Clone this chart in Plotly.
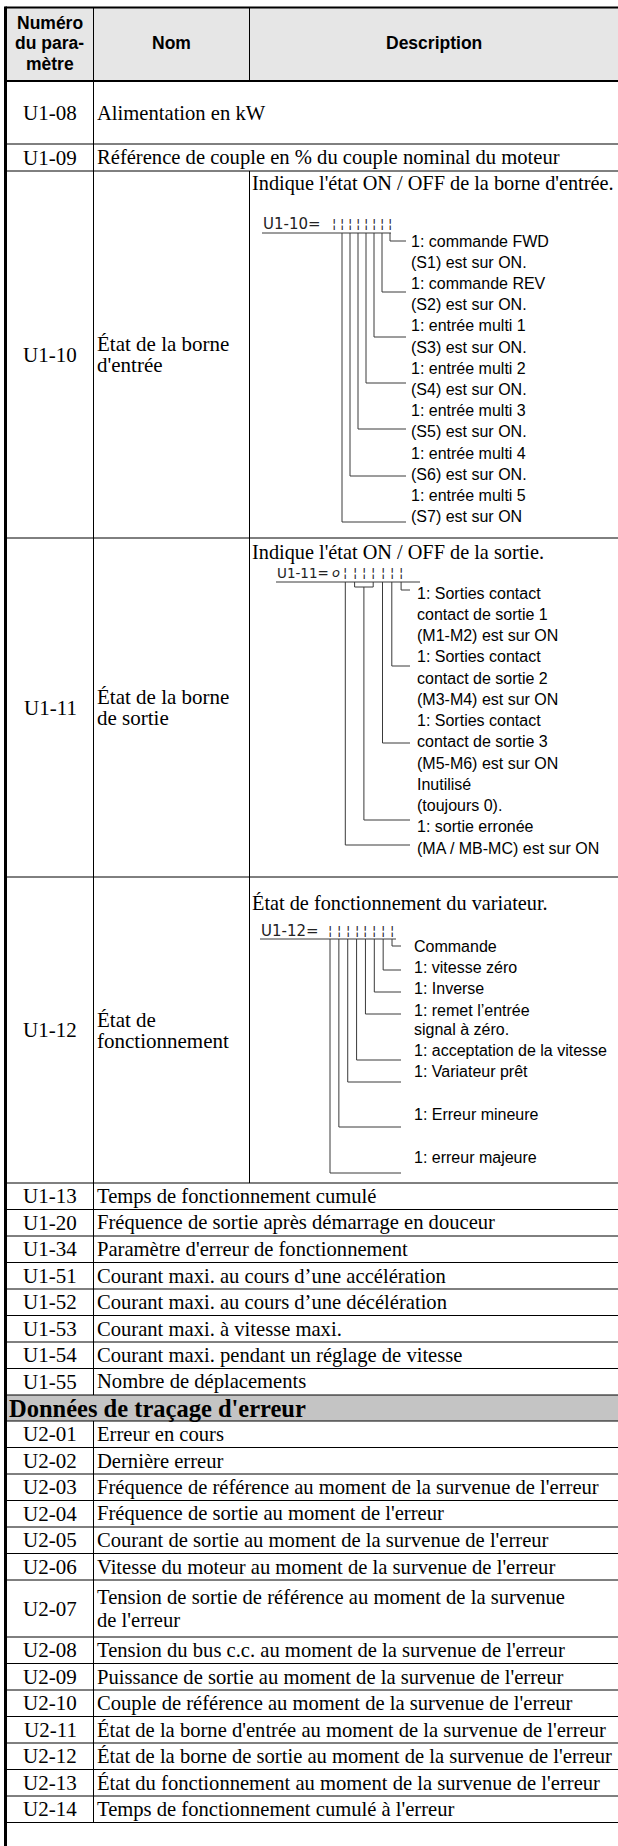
import plotly.graph_objects as go

# ---------------- content ----------------
header_param = ["Numéro", "du para-", "mètre"]
header_name = "Nom"
header_desc = "Description"

u1_codes = ["U1-08", "U1-09", "U1-10", "U1-11", "U1-12", "U1-13", "U1-20",
            "U1-34", "U1-51", "U1-52", "U1-53", "U1-54", "U1-55"]
u1_names = {"U1-10": ["État de la borne", "d'entrée"],
            "U1-11": ["État de la borne", "de sortie"],
            "U1-12": ["État de", "fonctionnement"]}
u1_desc = ["Alimentation en kW",
           "Référence de couple en % du couple nominal du moteur",
           "Indique l'état ON / OFF de la borne d'entrée.",
           "Indique l'état ON / OFF de la sortie.",
           "État de fonctionnement du variateur.",
           "Temps de fonctionnement cumulé",
           "Fréquence de sortie après démarrage en douceur",
           "Paramètre d'erreur de fonctionnement",
           "Courant maxi. au cours d’une accélération",
           "Courant maxi. au cours d’une décélération",
           "Courant maxi. à vitesse maxi.",
           "Courant maxi. pendant un réglage de vitesse",
           "Nombre de déplacements"]

section_title = "Données de traçage d'erreur"
u2_codes = ["U2-01", "U2-02", "U2-03", "U2-04", "U2-05", "U2-06", "U2-07",
            "U2-08", "U2-09", "U2-10", "U2-11", "U2-12", "U2-13", "U2-14"]
u2_desc = [["Erreur en cours"],
           ["Dernière erreur"],
           ["Fréquence de référence au moment de la survenue de l'erreur"],
           ["Fréquence de sortie au moment de l'erreur"],
           ["Courant de sortie au moment de la survenue de l'erreur"],
           ["Vitesse du moteur au moment de la survenue de l'erreur"],
           ["Tension de sortie de référence au moment de la survenue", "de l'erreur"],
           ["Tension du bus c.c. au moment de la survenue de l'erreur"],
           ["Puissance de sortie au moment de la survenue de l'erreur"],
           ["Couple de référence au moment de la survenue de l'erreur"],
           ["État de la borne d'entrée au moment de la survenue de l'erreur"],
           ["État de la borne de sortie au moment de la survenue de l'erreur"],
           ["État du fonctionnement au moment de la survenue de l'erreur"],
           ["Temps de fonctionnement cumulé à l'erreur"]]

u110_prefix = "U1-10="
u110_digits = ["¦"] * 8
u110_labels = ["1: commande FWD", "(S1) est sur ON.", "1: commande REV", "(S2) est sur ON.",
               "1: entrée multi 1", "(S3) est sur ON.", "1: entrée multi 2", "(S4) est sur ON.",
               "1: entrée multi 3", "(S5) est sur ON.", "1: entrée multi 4", "(S6) est sur ON.",
               "1: entrée multi 5", "(S7) est sur ON"]
u110_bits = [7, 6, 5, 4, 3, 2, 1]          # digit feeding each leader

u111_prefix = "U1-11="
u111_digits = ["o", "¦", "¦", "¦", "¦", "¦", "¦", "¦"]
u111_labels = ["1: Sorties contact", "contact de sortie 1", "(M1-M2) est sur ON",
               "1: Sorties contact", "contact de sortie 2", "(M3-M4) est sur ON",
               "1: Sorties contact", "contact de sortie 3", "(M5-M6) est sur ON",
               "Inutilisé", "(toujours 0).", "1: sortie erronée", "(MA / MB-MC) est sur ON"]
u111_bits = [7, 6, 5, 3, 1]

u112_prefix = "U1-12="
u112_digits = ["¦"] * 8
u112_labels = ["Commande", "1: vitesse zéro", "1: Inverse", "1: remet l’entrée",
               "signal à zéro.", "1: acceptation de la vitesse", "1: Variateur prêt",
               "1: Erreur mineure", "1: erreur majeure"]
u112_bits = [7, 6, 5, 4, 3, 2, 1, 0]

# ---------------- layout (positions / styles) ----------------
W, H = 618, 1846
TOP = 7.5
HEADER_BOTTOM = 81
u1_heights = [63, 27, 367, 339, 306] + [26.5] * 8
SECTION_H = 26
u2_heights = [26.5] * 6 + [57] + [26.5] * 7
X_LEFT, X_C1, X_C2, X_RIGHT = 5.5, 93.5, 249.5, 618
CODE_X = 50
DESC_X = 96
DIAG_X = 251

SERIF = "Liberation Serif, Times New Roman, serif"
SANS = "Liberation Sans, Arial, sans-serif"
SEG = "DejaVu Sans, sans-serif"
BODY = 20.6
CODE = 21
LAB = 16
HEAD = 17.5

diag_layout = {
    "U1-10": dict(head_dy=12, pre_x=262, pre_dy=53, ul_dy=62, ul_x1=391,
                  dig_x0=334, pitch=8.0, lab_x=410, lab_dy=[70 + 21.2 * k for k in range(14)],
                  lead_dy=[70, 121, 166, 212, 258, 305, 351], lead_end=406, pre_size=15),
    "U1-11": dict(head_dy=14, pre_x=276, pre_dy=35, ul_dy=44, ul_x1=420,
                  dig_x0=336, pitch=9.3, lab_x=416, lab_dy=[55 + 21.25 * k for k in range(13)],
                  lead_dy=[52, 128, 205, 282, 307], lead_end=410, pre_size=13.5,
                  bracket=(2, 4, 49)),
    "U1-12": dict(head_dy=26, pre_x=260, pre_dy=54, ul_dy=62, ul_x1=396,
                  dig_x0=330, pitch=8.86, lab_x=413,
                  lab_dy=[69, 90, 111, 133, 152, 173, 194, 237, 280],
                  lead_dy=[69, 93, 115, 137, 183, 205, 250, 296], lead_end=401, pre_size=15),
}
diagrams = {"U1-10": (u110_prefix, u110_digits, u110_labels, u110_bits),
            "U1-11": (u111_prefix, u111_digits, u111_labels, u111_bits),
            "U1-12": (u112_prefix, u112_digits, u112_labels, u112_bits)}

fig = go.Figure()
ann = []
shapes = []
thin, thick, mid, lead = [], [], [], []


def text(x, y, s, font, size, xa="left", bold=False, color="black"):
    if bold:
        s = "<b>" + s + "</b>"
    ann.append(dict(x=x, y=y, text=s, showarrow=False, xanchor=xa, yanchor="middle",
                    borderpad=0, font=dict(family=font, size=size, color=color),
                    xref="x", yref="y"))


# header
shapes.append(dict(type="rect", x0=X_LEFT + 1.5, x1=X_RIGHT, y0=TOP, y1=HEADER_BOTTOM,
                   fillcolor="#e6e6e6", line=dict(width=0), layer="below", xref="x", yref="y"))
for i, s in enumerate(header_param):
    text((X_LEFT + X_C1) / 2, 22.5 + 20.5 * i, s, SANS, HEAD, xa="center", bold=True)
text((X_C1 + X_C2) / 2, 43, header_name, SANS, HEAD, xa="center", bold=True)
text((X_C2 + X_RIGHT) / 2, 43, header_desc, SANS, HEAD, xa="center", bold=True)
mid.append((X_LEFT, TOP, X_RIGHT, TOP))
mid.append((X_LEFT, HEADER_BOTTOM, X_RIGHT, HEADER_BOTTOM))
thin.append((X_C1, TOP, X_C1, HEADER_BOTTOM))
thin.append((X_C2, TOP, X_C2, HEADER_BOTTOM))

# U1 rows
y = HEADER_BOTTOM
for code, desc, h in zip(u1_codes, u1_desc, u1_heights):
    y0, y1 = y, y + h
    text(CODE_X, (y0 + y1) / 2, code, SERIF, CODE, xa="center")
    thin.append((X_C1, y0, X_C1, y1))
    if code in diagrams:
        thin.append((X_C2, y0, X_C2, y1))
        lines = u1_names[code]
        for k, s in enumerate(lines):
            text(DESC_X, (y0 + y1) / 2 + (k - (len(lines) - 1) / 2) * 21, s, SERIF, CODE)
        d = diag_layout[code]
        pre, digs, labs, bits = diagrams[code]
        text(DIAG_X, y0 + d["head_dy"], desc, SERIF, 20.3)
        text(d["pre_x"], y0 + d["pre_dy"], pre, SEG, d["pre_size"], color="#222")
        dx = [d["dig_x0"] + d["pitch"] * i for i in range(len(digs))]
        for xx, g in zip(dx, digs):
            text(xx, y0 + d["pre_dy"] - 1, "<i>" + g + "</i>", SEG, 13, xa="center", color="#222")
        yu = y0 + d["ul_dy"]
        lead.append((d["pre_x"], yu, d["ul_x1"], yu))
        for ly, s in zip(d["lab_dy"], labs):
            text(d["lab_x"], y0 + ly, s, SANS, LAB)
        if code == "U1-11":
            b0, b1, bdy = d["bracket"]
            yb = y0 + bdy
            lead.append((dx[b0], yu, dx[b0], yb))
            lead.append((dx[b1], yu, dx[b1], yb))
            lead.append((dx[b0], yb, dx[b1], yb))
            starts = [yu, yu, yu, yb, yu]
        else:
            starts = [yu] * len(bits)
        for b, ldy, ys in zip(bits, d["lead_dy"], starts):
            ly = y0 + ldy
            lead.append((dx[b], ys, dx[b], ly))
            lead.append((dx[b], ly, d["lead_end"], ly))
    else:
        text(DESC_X, (y0 + y1) / 2, desc, SERIF, BODY)
    thin.append((X_LEFT, y1, X_RIGHT, y1))
    y = y1

# section header
s0, s1 = y, y + SECTION_H
shapes.append(dict(type="rect", x0=X_LEFT + 1.5, x1=X_RIGHT, y0=s0, y1=s1,
                   fillcolor="#c4c4c4", line=dict(width=0), layer="below", xref="x", yref="y"))
text(X_LEFT + 2, (s0 + s1) / 2 + 0.5, section_title, SERIF, 24.5, bold=True)
thin.append((X_LEFT, s1, X_RIGHT, s1))
y = s1

# U2 rows
for code, desc, h in zip(u2_codes, u2_desc, u2_heights):
    y0, y1 = y, y + h
    text(CODE_X, (y0 + y1) / 2, code, SERIF, CODE, xa="center")
    thin.append((X_C1, y0, X_C1, y1))
    for k, s in enumerate(desc):
        text(DESC_X, (y0 + y1) / 2 + (k - (len(desc) - 1) / 2) * 23, s, SERIF, BODY)
    thin.append((X_LEFT, y1, X_RIGHT, y1))
    y = y1

thick.append((X_LEFT, TOP - 1, X_LEFT, H))


def add_lines(segs, color, width):
    xs, ys = [], []
    for (a, b, c, e) in segs:
        xs += [a, c, None]
        ys += [b, e, None]
    fig.add_trace(go.Scatter(x=xs, y=ys, mode="lines", line=dict(color=color, width=width),
                             hoverinfo="skip", showlegend=False))


add_lines(lead, "#3a3a3a", 1)
add_lines(thin, "black", 1)
add_lines(mid, "black", 2)
add_lines(thick, "black", 3)

fig.update_layout(width=W, height=H, margin=dict(l=0, r=0, t=0, b=0, pad=0),
                  paper_bgcolor="white", plot_bgcolor="white",
                  xaxis=dict(range=[0, W], visible=False, fixedrange=True),
                  yaxis=dict(range=[H, 0], visible=False, fixedrange=True),
                  annotations=ann, shapes=shapes, showlegend=False)

fig.write_html("out.html", config={"displayModeBar": False},
               post_script="document.body.style.margin='0';document.body.style.overflow='hidden';")
